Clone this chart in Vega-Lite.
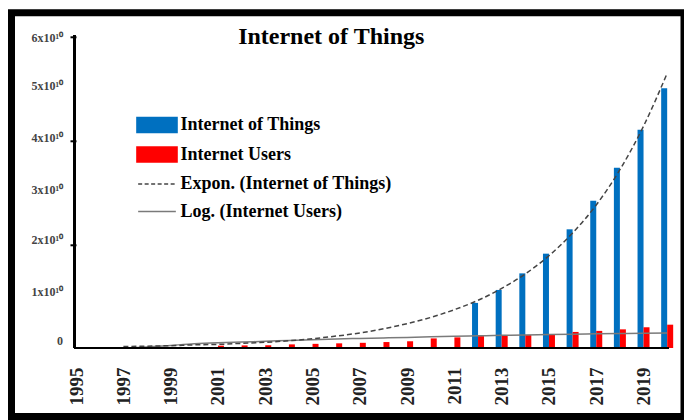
{
  "$schema": "https://vega.github.io/schema/vega-lite/v6.json",
  "width": 672.5,
  "height": 403.7,
  "autosize": {"type": "none"},
  "padding": {"left": 11.5, "top": 12.8, "right": 0, "bottom": 3.5},
  "background": "white",
  "config": {
    "view": {"stroke": "black", "strokeWidth": 7, "fill": "white"},
    "font": "Liberation Serif"
  },
  "title": {
    "text": "Internet of Things",
    "font": "Liberation Serif",
    "fontSize": 24,
    "fontWeight": "bold",
    "color": "black",
    "anchor": "middle",
    "frame": "group",
    "dx": -16.5,
    "offset": -36
  },
  "data": {
    "values": [
      {"year": 2012, "series": "Internet of Things", "value": 8700000000},
      {"year": 2013, "series": "Internet of Things", "value": 11200000000},
      {"year": 2014, "series": "Internet of Things", "value": 14400000000},
      {"year": 2015, "series": "Internet of Things", "value": 18200000000},
      {"year": 2016, "series": "Internet of Things", "value": 22900000000},
      {"year": 2017, "series": "Internet of Things", "value": 28400000000},
      {"year": 2018, "series": "Internet of Things", "value": 34800000000},
      {"year": 2019, "series": "Internet of Things", "value": 42100000000},
      {"year": 2020, "series": "Internet of Things", "value": 50100000000},
      {"year": 2001, "series": "Internet Users", "value": 450000000},
      {"year": 2002, "series": "Internet Users", "value": 500000000},
      {"year": 2003, "series": "Internet Users", "value": 550000000},
      {"year": 2004, "series": "Internet Users", "value": 700000000},
      {"year": 2005, "series": "Internet Users", "value": 800000000},
      {"year": 2006, "series": "Internet Users", "value": 900000000},
      {"year": 2007, "series": "Internet Users", "value": 1000000000},
      {"year": 2008, "series": "Internet Users", "value": 1150000000},
      {"year": 2009, "series": "Internet Users", "value": 1300000000},
      {"year": 2010, "series": "Internet Users", "value": 1850000000},
      {"year": 2011, "series": "Internet Users", "value": 2050000000},
      {"year": 2012, "series": "Internet Users", "value": 2300000000},
      {"year": 2013, "series": "Internet Users", "value": 2350000000},
      {"year": 2014, "series": "Internet Users", "value": 2500000000},
      {"year": 2015, "series": "Internet Users", "value": 2700000000},
      {"year": 2016, "series": "Internet Users", "value": 3100000000},
      {"year": 2017, "series": "Internet Users", "value": 3300000000},
      {"year": 2018, "series": "Internet Users", "value": 3600000000},
      {"year": 2019, "series": "Internet Users", "value": 4000000000},
      {"year": 2020, "series": "Internet Users", "value": 4500000000},
      {"year": 1997, "series": "Expon. (Internet of Things)", "value": 300000000},
      {"year": 1998, "series": "Expon. (Internet of Things)", "value": 350000000},
      {"year": 1999, "series": "Expon. (Internet of Things)", "value": 450000000},
      {"year": 2000, "series": "Expon. (Internet of Things)", "value": 600000000},
      {"year": 2001, "series": "Expon. (Internet of Things)", "value": 700000000},
      {"year": 2002, "series": "Expon. (Internet of Things)", "value": 900000000},
      {"year": 2003, "series": "Expon. (Internet of Things)", "value": 1100000000},
      {"year": 2004, "series": "Expon. (Internet of Things)", "value": 1400000000},
      {"year": 2005, "series": "Expon. (Internet of Things)", "value": 1800000000},
      {"year": 2006, "series": "Expon. (Internet of Things)", "value": 2300000000},
      {"year": 2007, "series": "Expon. (Internet of Things)", "value": 2900000000},
      {"year": 2008, "series": "Expon. (Internet of Things)", "value": 3700000000},
      {"year": 2009, "series": "Expon. (Internet of Things)", "value": 4700000000},
      {"year": 2010, "series": "Expon. (Internet of Things)", "value": 5900000000},
      {"year": 2011, "series": "Expon. (Internet of Things)", "value": 7400000000},
      {"year": 2012, "series": "Expon. (Internet of Things)", "value": 9200000000},
      {"year": 2013, "series": "Expon. (Internet of Things)", "value": 11500000000},
      {"year": 2014, "series": "Expon. (Internet of Things)", "value": 14300000000},
      {"year": 2015, "series": "Expon. (Internet of Things)", "value": 17800000000},
      {"year": 2016, "series": "Expon. (Internet of Things)", "value": 22200000000},
      {"year": 2017, "series": "Expon. (Internet of Things)", "value": 27600000000},
      {"year": 2018, "series": "Expon. (Internet of Things)", "value": 34400000000},
      {"year": 2019, "series": "Expon. (Internet of Things)", "value": 42800000000},
      {"year": 2020, "series": "Expon. (Internet of Things)", "value": 53000000000},
      {"year": 1997, "series": "Log. (Internet Users)", "value": 0},
      {"year": 1998, "series": "Log. (Internet Users)", "value": 200000000},
      {"year": 1999, "series": "Log. (Internet Users)", "value": 500000000},
      {"year": 2000, "series": "Log. (Internet Users)", "value": 800000000},
      {"year": 2001, "series": "Log. (Internet Users)", "value": 1000000000},
      {"year": 2002, "series": "Log. (Internet Users)", "value": 1150000000},
      {"year": 2003, "series": "Log. (Internet Users)", "value": 1300000000},
      {"year": 2004, "series": "Log. (Internet Users)", "value": 1450000000},
      {"year": 2005, "series": "Log. (Internet Users)", "value": 1600000000},
      {"year": 2006, "series": "Log. (Internet Users)", "value": 1750000000},
      {"year": 2007, "series": "Log. (Internet Users)", "value": 1850000000},
      {"year": 2008, "series": "Log. (Internet Users)", "value": 1950000000},
      {"year": 2009, "series": "Log. (Internet Users)", "value": 2050000000},
      {"year": 2010, "series": "Log. (Internet Users)", "value": 2150000000},
      {"year": 2011, "series": "Log. (Internet Users)", "value": 2250000000},
      {"year": 2012, "series": "Log. (Internet Users)", "value": 2350000000},
      {"year": 2013, "series": "Log. (Internet Users)", "value": 2450000000},
      {"year": 2014, "series": "Log. (Internet Users)", "value": 2520000000},
      {"year": 2015, "series": "Log. (Internet Users)", "value": 2600000000},
      {"year": 2016, "series": "Log. (Internet Users)", "value": 2670000000},
      {"year": 2017, "series": "Log. (Internet Users)", "value": 2730000000},
      {"year": 2018, "series": "Log. (Internet Users)", "value": 2790000000},
      {"year": 2019, "series": "Log. (Internet Users)", "value": 2850000000},
      {"year": 2020, "series": "Log. (Internet Users)", "value": 2900000000}
    ]
  },
  "layer": [
    {
      "transform": [{"filter": {"field": "series", "equal": "Internet of Things"}}],
      "mark": {"type": "bar", "size": 6, "xOffset": -3},
      "encoding": {
        "x": {
          "field": "year", "type": "quantitative",
          "scale": {"domain": [1992.4792, 2020.5], "nice": false, "zero": false},
          "axis": {
            "orient": "bottom",
            "offset": -68.5,
            "values": [1995, 1997, 1999, 2001, 2003, 2005, 2007, 2009, 2011, 2013, 2015, 2017, 2019],
            "format": "d",
            "domain": false,
            "grid": false,
            "ticks": false,
            "labelAngle": 270,
            "labelAlign": "right",
            "labelBaseline": "middle",
            "labelPadding": 19,
            "labelFont": "Liberation Serif",
            "labelFontSize": 19,
            "labelFontWeight": "bold",
            "labelColor": "#222222",
            "labelOverlap": false,
            "title": null
          }
        },
        "y": {
          "field": "value", "type": "quantitative",
          "scale": {"domain": [-13216000000, 64673000000], "nice": false, "zero": false},
          "axis": {
            "orient": "left",
            "offset": -58.5,
            "values": [0, 10000000000, 20000000000, 30000000000, 40000000000, 50000000000, 60000000000],
            "labelExpr": "datum.value === 0 ? '0' : (datum.value / 1e10) + 'x10¹⁰'",
            "domain": false,
            "grid": false,
            "ticks": true,
            "tickSize": -6,
            "tickWidth": 2,
            "tickColor": "black",
            "tickOpacity": {"condition": {"test": "datum.value % 20000000000 !== 0 || datum.value === 0", "value": 0}, "value": 1},
            "labelPadding": 13.5,
            "labelOffset": {
              "condition": [
                {"test": "datum.value === 0", "value": -8},
                {"test": "datum.value === 10000000000", "value": -5},
                {"test": "datum.value === 20000000000", "value": -5},
                {"test": "datum.value === 60000000000", "value": 0}
              ],
              "value": -3
            },
            "labelFont": "Liberation Serif",
            "labelFontSize": 12,
            "labelFontWeight": "bold",
            "labelColor": "#444444",
            "title": null
          }
        },
        "color": {
          "field": "series", "type": "nominal",
          "scale": {
            "domain": ["Internet of Things", "Internet Users", "Expon. (Internet of Things)", "Log. (Internet Users)"],
            "range": ["#0070C0", "#FF0000", "#444444", "#7a7a7a"]
          },
          "legend": {
            "orient": "none",
            "legendX": 130,
            "legendY": 96.7,
            "title": null,
            "padding": 0,
            "rowPadding": 2.5,
            "symbolSize": 841,
            "labelOffset": 8,
            "labelFont": "Liberation Serif",
            "labelFontSize": 18,
            "labelFontWeight": "bold",
            "labelColor": "black",
            "labelLimit": 400,
            "encode": {
              "symbols": {
                "update": {
                  "shape": {"signal": "(datum.value === 'Internet of Things' || datum.value === 'Internet Users') ? 'M-1.38,-0.52H1.38V0.52H-1.38Z' : 'M-1.3,0H1.3'"},
                  "fill": {"signal": "datum.value === 'Internet of Things' ? '#0070C0' : (datum.value === 'Internet Users' ? '#FF0000' : 'transparent')"},
                  "stroke": {"signal": "(datum.value === 'Internet of Things' || datum.value === 'Internet Users') ? 'transparent' : '#111111'"},
                  "strokeDash": {"signal": "datum.value === 'Expon. (Internet of Things)' ? [4, 2.5] : [1, 0]"},
                  "strokeWidth": {"value": 1.6},
                  "opacity": {"value": 1},
                  "size": {"value": 841}
                }
              }
            }
          }
        }
      }
    },
    {
      "transform": [{"filter": {"field": "series", "equal": "Internet Users"}}],
      "mark": {"type": "bar", "size": 6, "xOffset": 3},
      "encoding": {
        "x": {"field": "year", "type": "quantitative"},
        "y": {"field": "value", "type": "quantitative"},
        "color": {"field": "series", "type": "nominal"}
      }
    },
    {
      "transform": [{"filter": {"field": "series", "equal": "Log. (Internet Users)"}}],
      "mark": {"type": "line", "strokeWidth": 1.5, "interpolate": "monotone"},
      "encoding": {
        "x": {"field": "year", "type": "quantitative"},
        "y": {"field": "value", "type": "quantitative"},
        "color": {"field": "series", "type": "nominal"}
      }
    },
    {
      "transform": [{"filter": {"field": "series", "equal": "Expon. (Internet of Things)"}}],
      "mark": {"type": "line", "strokeWidth": 1.5, "strokeDash": [5, 3], "interpolate": "monotone"},
      "encoding": {
        "x": {"field": "year", "type": "quantitative"},
        "y": {"field": "value", "type": "quantitative"},
        "color": {"field": "series", "type": "nominal"}
      }
    },
    {
      "mark": {"type": "rule", "color": "black", "strokeWidth": 2},
      "encoding": {
        "x": {"datum": 1994.92, "type": "quantitative"},
        "y": {"datum": 0, "type": "quantitative"},
        "y2": {"datum": 60400000000}
      }
    },
    {
      "mark": {"type": "rule", "color": "black", "strokeWidth": 2},
      "encoding": {
        "x": {"datum": 1994.92, "type": "quantitative"},
        "x2": {"datum": 2020.05},
        "y": {"datum": 0, "type": "quantitative"}
      }
    }
  ]
}
